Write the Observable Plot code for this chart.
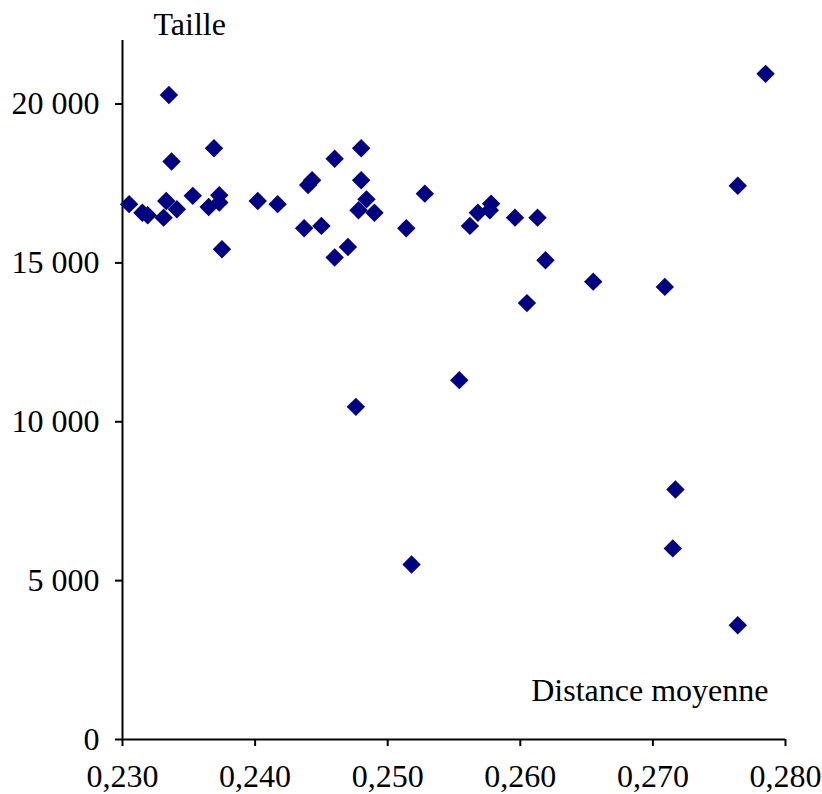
<!DOCTYPE html>
<html>
<head>
<meta charset="utf-8">
<script src="https://cdn.jsdelivr.net/npm/d3@7"></script>
<script src="https://cdn.jsdelivr.net/npm/@observablehq/plot@0.6"></script>
<style>
  html, body { margin: 0; padding: 0; background: #fff; }
  svg text { font-family: "Liberation Serif", "Times New Roman", serif !important; }
</style>
</head>
<body>
<div id="chart"></div>
<script>
// Distance moyenne (x) and Taille (y)
const distance = [
  0.2305, 0.2315, 0.2319, 0.2331, 0.2333, 0.2335, 0.2337, 0.2341, 0.2353, 0.2365,
  0.2369, 0.2373, 0.2373, 0.2375, 0.2402, 0.2417, 0.2437, 0.2440, 0.2443, 0.2450,
  0.2460, 0.2460, 0.2470, 0.2476, 0.2480, 0.2480, 0.2484, 0.2478, 0.2490, 0.2514,
  0.2528, 0.2554, 0.2518, 0.2562, 0.2568, 0.2577, 0.2578, 0.2596, 0.2613, 0.2619,
  0.2605, 0.2655, 0.2709, 0.2717, 0.2715, 0.2764, 0.2764, 0.2785
];
const taille = [
  16850, 16580, 16500, 16425, 16950, 20285, 18190, 16690, 17110, 16760,
  18610, 17130, 16900, 15430, 16950, 16850, 16090, 17450, 17600, 16165,
  18280, 15170, 15500, 10470, 18610, 17600, 17000, 16660, 16580, 16090,
  17180, 11310, 5510, 16165, 16580, 16660, 16865, 16425, 16425, 15085,
  13735, 14410, 14245, 7870, 6015, 17430, 3595, 20950
];
const xTicks = [0.230, 0.240, 0.250, 0.260, 0.270, 0.280];
const yTicks = [0, 5000, 10000, 15000, 20000];
const yLabel = "Taille";
const xLabel = "Distance moyenne";

const data = distance.map((d, i) => ({distance: d, taille: taille[i]}));
const loc = d3.formatLocale({decimal: ",", thousands: "\u00a0", grouping: [3]});
const fx = loc.format(".3f");
const fy = loc.format(",.0f");
const ff = "Liberation Serif";
const fs = 32;

const chart = Plot.plot({
  width: 822,
  height: 794,
  marginLeft: 122,
  marginRight: 37,
  marginTop: 40,
  marginBottom: 55,
  style: {fontFamily: ff, fontSize: fs + "px", color: "#000", background: "#fff"},
  x: {domain: [0.230, 0.280]},
  y: {domain: [0, 22000]},
  marks: [
    Plot.axisX({ticks: xTicks, tickFormat: fx, tickSize: 7, tickPadding: 18, strokeWidth: 2, label: null, fontSize: fs, fontFamily: ff}),
    Plot.axisY({ticks: yTicks, tickFormat: fy, tickSize: 7, tickPadding: 16, strokeWidth: 2, label: null, fontSize: fs, fontFamily: ff}),
    Plot.ruleX([0.230], {stroke: "#000", strokeWidth: 2}),
    Plot.ruleY([0], {stroke: "#000", strokeWidth: 2}),
    Plot.dot(data, {x: "distance", y: "taille", symbol: "diamond2", r: 8.3, fill: "#000080", stroke: "none"}),
    Plot.text([yLabel], {frameAnchor: "top-left", text: d => d, textAnchor: "start", lineAnchor: "bottom", dx: 31, dy: -6, fontSize: fs, fontFamily: ff, fill: "#000"}),
    Plot.text([xLabel], {frameAnchor: "bottom-right", text: d => d, textAnchor: "end", lineAnchor: "bottom", dx: -17, dy: -39, fontSize: fs, fontFamily: ff, fill: "#000"})
  ]
});
chart.style.fontFamily = ff;
document.getElementById("chart").appendChild(chart);
</script>
</body>
</html>
